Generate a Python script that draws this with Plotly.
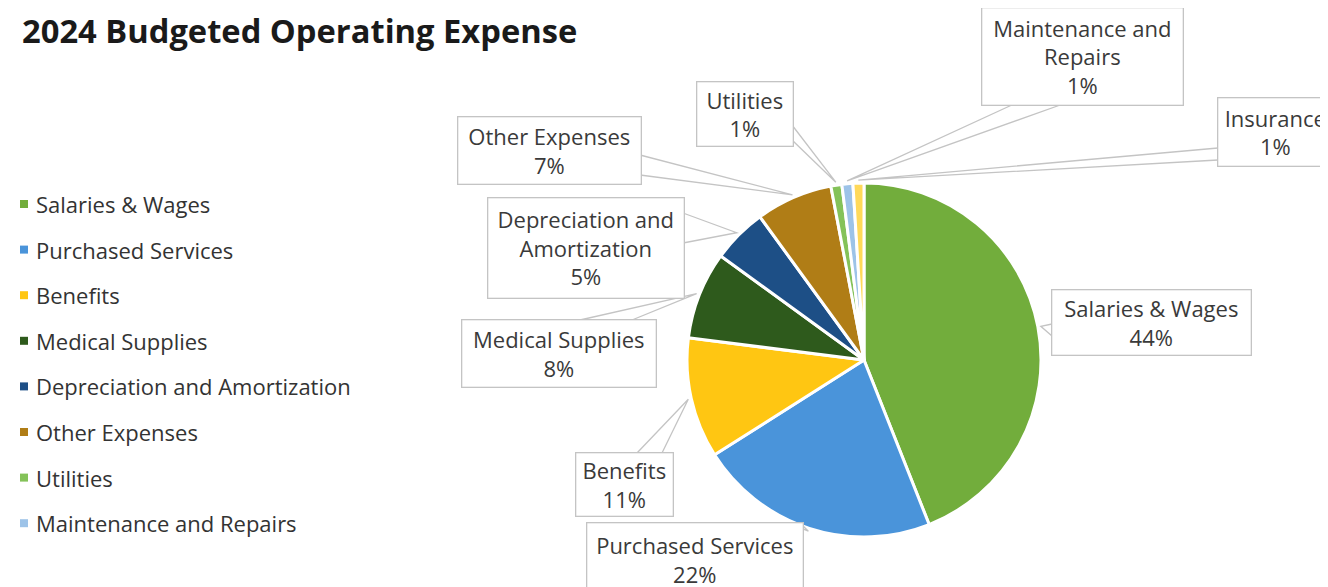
import math
import plotly.graph_objects as go

# ---------------- data ----------------
categories = ["Salaries & Wages", "Purchased Services", "Benefits", "Medical Supplies",
              "Depreciation and Amortization", "Other Expenses", "Utilities",
              "Maintenance and Repairs", "Insurance"]
values = [44, 22, 11, 8, 5, 7, 1, 1, 1]
label_names = ["Salaries & Wages", "Purchased Services", "Benefits", "Medical Supplies",
               "Depreciation and<br>Amortization", "Other Expenses", "Utilities",
               "Maintenance and<br>Repairs", "Insurance"]
legend_items = categories[:8]
colors = ["#72AD3C", "#4A94DA", "#FFC612", "#2E5A1C", "#1D4F86", "#B07D16",
          "#84C259", "#9DC3E8", "#FFD95A"]
title = "2024 Budgeted Operating Expense"

# ---------------- geometry (page pixels) ----------------
W, H = 1328, 587
OFF = 8  # page body margin
CX, CY, R = 864, 360, 177
FONT = "Open Sans"

# label boxes: x0, y0, x1, y1, side of pointer, base start, base end
boxes = [
    (1052, 290, 1250, 354, "l", 324, 336),
    (587, 523, 802, 595, "t", 788, 800),
    (576, 453, 672, 515, "t", 637, 662),
    (462, 320, 655, 386, "t", 580, 632),
    (488, 198, 683, 297, "r", 213, 243),
    (458, 117, 640, 183, "r", 155, 175),
    (697, 82, 792, 145, "r", 125, 140),
    (982, 8, 1182, 104, "b", 1014, 1063),
    (1218, 98, 1332, 165, "l", 148, 160),
]

total = sum(values)
fig = go.Figure()

px0, py0 = CX - OFF, CY - OFF
fig.add_trace(go.Pie(
    labels=categories, values=values, sort=False, direction="clockwise", rotation=0,
    marker=dict(colors=colors, line=dict(color="white", width=3)),
    textinfo="none", hoverinfo="label+percent", showlegend=False,
    domain=dict(x=[(px0 - R) / W, (px0 + R) / W], y=[1 - (py0 + R) / H, 1 - (py0 - R) / H]),
))

# legend markers (drawn on a hidden pixel-space axis)
leg_y0, leg_step = 204, 45.6
leg_ys = [leg_y0 + i * leg_step for i in range(len(legend_items))]
fig.add_trace(go.Scatter(
    x=[24] * len(legend_items), y=leg_ys, mode="markers",
    marker=dict(symbol="square", size=8, color=colors[:len(legend_items)]),
    hoverinfo="skip", showlegend=False,
))

annotations = []
shapes = []

annotations.append(dict(x=20, y=30, xref="x", yref="y", xanchor="left", yanchor="middle",
                        text="<b>" + title + "</b>", showarrow=False,
                        font=dict(family=FONT, size=32.7, color="#1a1a1a")))

for name, y in zip(legend_items, leg_ys):
    annotations.append(dict(x=34, y=y, xref="x", yref="y", xanchor="left", yanchor="middle",
                            text=name, showarrow=False,
                            font=dict(family=FONT, size=22, color="#333333")))

cum = 0
for i, (name, v) in enumerate(zip(label_names, values)):
    mid = (cum + v / 2) / total
    cum += v
    th = 2 * math.pi * mid
    tx = CX + (R + 3) * math.sin(th)
    ty = CY - (R + 3) * math.cos(th)
    x0, y0, x1, y1, side, b0, b1 = boxes[i]
    if side == "r":
        p0, p1 = (x1, b0), (x1, b1)
    elif side == "l":
        p0, p1 = (x0, b0), (x0, b1)
    elif side == "t":
        p0, p1 = (b0, y0), (b1, y0)
    else:
        p0, p1 = (b0, y1), (b1, y1)
    shapes.append(dict(type="path", xref="x", yref="y",
                       path=f"M {p0[0]} {p0[1]} L {tx:.1f} {ty:.1f} L {p1[0]} {p1[1]}",
                       line=dict(color="#c4c4c4", width=1.3)))
    pct = round(100 * v / total)
    annotations.append(dict(
        x=(x0 + x1) / 2, y=(y0 + y1) / 2, xref="x", yref="y",
        xanchor="center", yanchor="middle", showarrow=False,
        text=f"{name}<br>{pct}%", align="center", valign="middle",
        width=x1 - x0, height=y1 - y0, borderpad=0,
        bgcolor="white", bordercolor="#c4c4c4", borderwidth=1.3,
        font=dict(family=FONT, size=22, color="#3a3a3a")))

fig.update_layout(
    width=W, height=H, margin=dict(l=0, r=0, t=0, b=0),
    paper_bgcolor="white", plot_bgcolor="white",
    xaxis=dict(range=[OFF, W + OFF], visible=False, fixedrange=True, domain=[0, 1]),
    yaxis=dict(range=[H + OFF, OFF], visible=False, fixedrange=True, domain=[0, 1]),
    annotations=annotations, shapes=shapes, showlegend=False,
)

fig.write_html("out.html")
